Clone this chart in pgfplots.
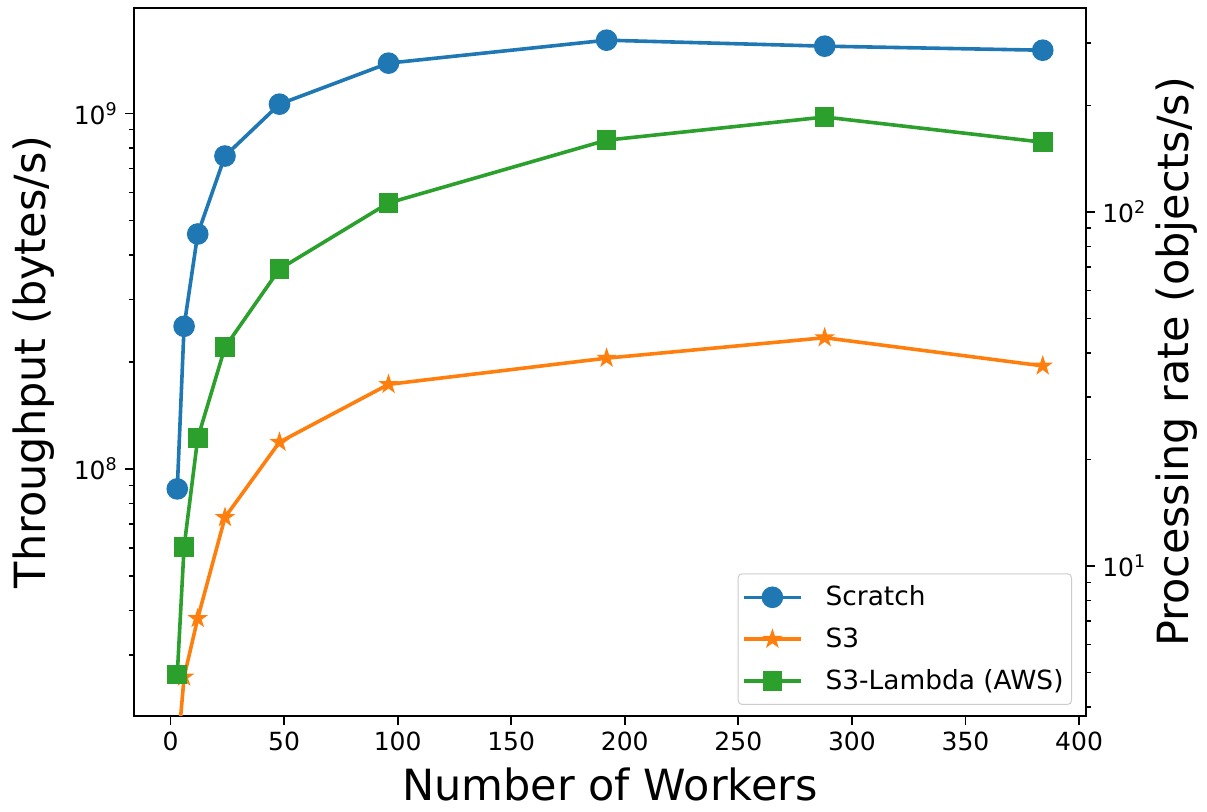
\documentclass[border=0pt]{standalone}
\usepackage{pgfplots}
\pgfplotsset{compat=1.18}
\usepackage{fontspec}
\setmainfont{DejaVu Sans}
\definecolor{tabblue}{HTML}{1F77B4}
\definecolor{taborange}{HTML}{FF7F0E}
\definecolor{tabgreen}{HTML}{2CA02C}
\pgfdeclareplotmark{fstar}{%
  \pgfpathmoveto{\pgfpointpolar{90}{\pgfplotmarksize}}%
  \pgfpathlineto{\pgfpointpolar{126}{0.382\pgfplotmarksize}}%
  \pgfpathlineto{\pgfpointpolar{162}{\pgfplotmarksize}}%
  \pgfpathlineto{\pgfpointpolar{198}{0.382\pgfplotmarksize}}%
  \pgfpathlineto{\pgfpointpolar{234}{\pgfplotmarksize}}%
  \pgfpathlineto{\pgfpointpolar{270}{0.382\pgfplotmarksize}}%
  \pgfpathlineto{\pgfpointpolar{306}{\pgfplotmarksize}}%
  \pgfpathlineto{\pgfpointpolar{342}{0.382\pgfplotmarksize}}%
  \pgfpathlineto{\pgfpointpolar{18}{\pgfplotmarksize}}%
  \pgfpathlineto{\pgfpointpolar{54}{0.382\pgfplotmarksize}}%
  \pgfpathclose\pgfusepathqfillstroke}
\begin{document}
\begin{tikzpicture}
\begin{axis}[
  ymode=log, log basis y=10,
  width=476pt, height=354pt, scale only axis,
  xmin=-16.05, xmax=403.05,
  ymin=2.02e7, ymax=1.98e9,
  tick align=outside,
  major tick length=4.6pt, minor tick length=2.6pt,
  major tick style={black, line width=0.9pt},
  minor tick style={black, line width=0.7pt},
  axis line style={line width=0.9pt},
  tick label style={font=\fontsize{12.5}{15}\selectfont},
  /pgf/number format/assume math mode=true,
  xtick={0,50,100,150,200,250,300,350,400},
  xtick pos=bottom, ytick pos=left,
  yticklabel={10\textsuperscript{\pgfmathparse{int(round(\tick))}\pgfmathresult}},
  xlabel={Number of Workers},
  ylabel={Throughput (bytes/s)},
  every axis x label/.style={at={(axis description cs:0.5,-0.097)}, anchor=center, font=\fontsize{21.5}{25}\selectfont},
  every axis y label/.style={at={(axis description cs:-0.105,0.5)}, anchor=center, rotate=90, font=\fontsize{21.5}{25}\selectfont},
  legend style={at={(axis description cs:1,0)}, anchor=south east, xshift=-7pt, yshift=5.5pt,
    draw=black!20, line width=0.5pt, rounded corners=2pt, fill=white,
    font=\fontsize{13.2}{15.8}\selectfont, row sep=5.5pt, inner xsep=2pt, inner ysep=4pt,
    cells={anchor=west},
    /tikz/every odd column/.append style={column sep=9.5pt}},
  legend image code/.code={\draw[mark repeat=2,mark phase=2] plot coordinates {(0cm,0cm) (0.5cm,0cm) (1cm,0cm)};},
]
\coordinate (bl) at (rel axis cs:0,0);
\coordinate (tr) at (rel axis cs:1,1);
\addplot[tabblue, line width=1.8pt, mark=*, mark size=4.5pt, mark options={solid}] coordinates {
(3,8.79e7) (6,2.52e8) (12,4.58e8) (24,7.59e8) (48,1.062e9) (96,1.385e9) (192,1.607e9) (288,1.546e9) (384,1.506e9)};
\addlegendentry{Scratch}
\addplot[taborange, line width=1.8pt, mark=fstar, mark size=4.6pt, mark options={solid, line width=0.5pt}] coordinates {
(3,1.56e7) (6,2.60e7) (12,3.80e7) (24,7.31e7) (48,1.19e8) (96,1.73e8) (192,2.05e8) (288,2.34e8) (384,1.95e8)};
\addlegendentry{S3}
\addplot[tabgreen, line width=1.8pt, mark=square*, mark size=4pt, mark options={solid}] coordinates {
(3,2.64e7) (6,6.04e7) (12,1.22e8) (24,2.20e8) (48,3.65e8) (96,5.60e8) (192,8.41e8) (288,9.77e8) (384,8.30e8)};
\addlegendentry{S3-Lambda (AWS)}
\end{axis}
\begin{axis}[
  ymode=log, log basis y=10,
  width=476pt, height=354pt, scale only axis,
  xmin=-16.05, xmax=403.05,
  ymin=3.77, ymax=377,
  tick align=outside,
  major tick length=4.6pt, minor tick length=2.6pt,
  major tick style={black, line width=0.9pt},
  minor tick style={black, line width=0.7pt},
  axis line style={line width=0.9pt},
  tick label style={font=\fontsize{12.5}{15}\selectfont},
  axis y line*=right, axis x line=none,
  yticklabel={10\textsuperscript{\pgfmathparse{int(round(\tick))}\pgfmathresult}},
  ylabel={Processing rate (objects/s)},
  every axis y label/.style={at={(axis description cs:1.095,0.5)}, anchor=center, rotate=90, font=\fontsize{21.5}{25}\selectfont},
]
\addplot[draw=none, mark=none, forget plot] coordinates {(3,16.6) (384,284)};
\end{axis}
\pgfresetboundingbox
\path[use as bounding box] ([shift={(-67pt,-47.5pt)}]bl) rectangle ([shift={(60.5pt,4pt)}]tr);
\end{tikzpicture}
\end{document}
